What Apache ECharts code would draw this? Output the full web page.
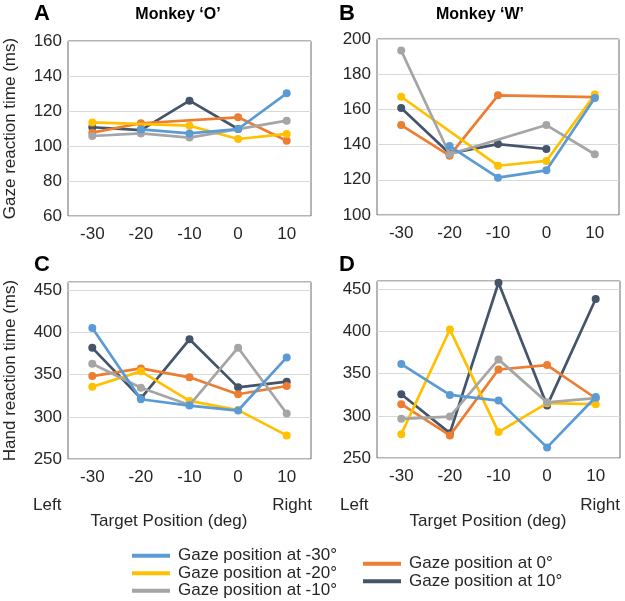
<!DOCTYPE html>
<html>
<head>
<meta charset="utf-8">
<script src="https://cdn.jsdelivr.net/npm/echarts@6/dist/echarts.min.js"></script>
<style>html,body{margin:0;padding:0;background:#fff}#c{width:625px;height:601px}</style>
</head>
<body>
<div id="c"></div>
<script>
const categories = ['-30', '-20', '-10', '0', '10'];
const seriesNames = ['Gaze position at -30°', 'Gaze position at -20°', 'Gaze position at -10°', 'Gaze position at 0°', 'Gaze position at 10°'];
const colors = ['#5B9BD5', '#FFC000', '#A5A5A5', '#ED7D31', '#44546A'];

// Panel A: gaze RT, monkey O
const gazeO_m30 = [null, 109.5, 107.2, 109.7, 130.1];
const gazeO_m20 = [113.5, null, 111.6, 104, 106.9];
const gazeO_m10 = [105.7, 107.2, 104.8, null, 114.5];
const gazeO_0 = [107.6, 113, null, 116.4, 103];
const gazeO_10 = [110.7, 109.1, 125.9, 109.7, null];
// Panel B: gaze RT, monkey W
const gazeW_m30 = [null, 139.2, 121.2, 125.4, 166.5];
const gazeW_m20 = [167.2, null, 128, 130.7, 168.4];
const gazeW_m10 = [193.4, 134.5, null, 151.1, 134.5];
const gazeW_0 = [151.1, 133.7, 168, null, 167];
const gazeW_10 = [160.8, 135, 140.3, 137.5, null];
// Panel C: hand RT, monkey O
const handO_m30 = [405.5, 320.9, 313.4, 307.5, 370.5];
const handO_m20 = [335.8, 354, 318.9, 308, 278];
const handO_m10 = [363, 334.6, 314, 382, 304];
const handO_0 = [348.4, 357.5, 346.9, 326.8, 336.6];
const handO_10 = [381.9, 322, 392, 335, 341.7];
// Panel D: hand RT, monkey W
const handW_m30 = [361.4, 324.8, 318.1, 262.6, 322.4];
const handW_m20 = [278.3, 402.4, 280.7, 315, 313.8];
const handW_m10 = [296.5, 299.2, 367, 316, 321];
const handW_0 = [313.8, 276.8, 355, 360.2, 320.9];
const handW_10 = [325.6, 279.5, 457.9, 312.2, 438.6];

const panels = [
  [gazeO_m30, gazeO_m20, gazeO_m10, gazeO_0, gazeO_10],
  [gazeW_m30, gazeW_m20, gazeW_m10, gazeW_0, gazeW_10],
  [handO_m30, handO_m20, handO_m10, handO_0, handO_10],
  [handW_m30, handW_m20, handW_m10, handW_0, handW_10]
];

const FONT = 'Liberation Sans, Arial, sans-serif';
const TXT = '#262626';

const grids = [
  {left: 68, top: 41, width: 243, height: 175},
  {left: 377, top: 39, width: 242, height: 176},
  {left: 68, top: 282, width: 243, height: 177},
  {left: 377, top: 281, width: 243, height: 177}
].map(g => Object.assign(g, {show: true, borderColor: '#6b6b6b', borderWidth: 1, backgroundColor: 'transparent'}));

const yRanges = [[60, 160, 20], [100, 200, 20], [250, 460, 50], [250, 460, 50]];
const yNames = ['Gaze reaction time (ms)', '', 'Hand reaction time (ms)', ''];

const xAxes = grids.map((g, i) => ({
  type: 'category', gridIndex: i, data: categories, boundaryGap: true,
  axisLine: {show: false}, axisTick: {show: false},
  axisLabel: {color: TXT, fontFamily: FONT, fontSize: 17, margin: 10}
}));
const yAxes = grids.map((g, i) => ({
  type: 'value', gridIndex: i, min: yRanges[i][0], max: yRanges[i][1], interval: yRanges[i][2],
  axisLine: {show: false}, axisTick: {show: false},
  splitLine: {lineStyle: {color: '#d9d9d9', width: 1}},
  axisLabel: {color: TXT, fontFamily: FONT, fontSize: 17, margin: 6,
    formatter: v => (v % yRanges[i][2] === 0 ? String(v) : '')},
  name: yNames[i], nameLocation: 'middle', nameGap: 49,
  nameTextStyle: {color: TXT, fontFamily: FONT, fontSize: 17}
}));

// draw order bottom -> top
const drawOrder = [4, 3, 1, 2, 0];
const series = [];
panels.forEach((p, pi) => {
  drawOrder.forEach((si, k) => {
    series.push({
      type: 'line', name: seriesNames[si], xAxisIndex: pi, yAxisIndex: pi,
      data: p[si], connectNulls: true, symbol: 'circle', symbolSize: 8,
      z: 2 + k,
      lineStyle: {color: colors[si], width: 2.7},
      itemStyle: {color: colors[si]},
      emphasis: {disabled: true}
    });
  });
});

const legendCommon = {
  orient: 'vertical', icon: 'rect', itemWidth: 38, itemHeight: 4, itemGap: 0,
  selectedMode: false, padding: 0, height: 70,
  textStyle: {color: TXT, fontFamily: FONT, fontSize: 17, lineHeight: 17.5, padding: [0, 0, 0, 3]}
};

const txt = (left, top, text, size, bold, extra) => Object.assign({
  type: 'text', left: left, top: top,
  style: {text: text, fill: bold ? '#000' : TXT, font: (bold ? 'bold ' : '') + size + 'px ' + FONT}
}, extra || {});

const option = {
  animation: false,
  backgroundColor: '#fff',
  grid: grids,
  xAxis: xAxes,
  yAxis: yAxes,
  series: series,
  legend: [
    Object.assign({}, legendCommon, {left: 132, top: 547, data: seriesNames.slice(0, 3)}),
    Object.assign({}, legendCommon, {left: 363, top: 555, data: seriesNames.slice(3)})
  ],
  graphic: [
    txt(34, 3, 'A', 22, true),
    txt(339, 3, 'B', 22, true),
    txt(34, 254, 'C', 22, true),
    txt(339, 254, 'D', 22, true),
    {type: 'text', x: 178, y: 15, style: {text: 'Monkey \u2018O\u2019', fill: '#000', font: 'bold 16px ' + FONT, align: 'center', verticalAlign: 'middle'}},
    {type: 'text', x: 480, y: 15, style: {text: 'Monkey \u2018W\u2019', fill: '#000', font: 'bold 16px ' + FONT, align: 'center', verticalAlign: 'middle'}},
    {type: 'text', x: 33, y: 505, style: {text: 'Left', fill: TXT, font: '17px ' + FONT, verticalAlign: 'middle'}},
    {type: 'text', x: 312, y: 505, style: {text: 'Right', fill: TXT, font: '17px ' + FONT, align: 'right', verticalAlign: 'middle'}},
    {type: 'text', x: 340, y: 505, style: {text: 'Left', fill: TXT, font: '17px ' + FONT, verticalAlign: 'middle'}},
    {type: 'text', x: 620, y: 505, style: {text: 'Right', fill: TXT, font: '17px ' + FONT, align: 'right', verticalAlign: 'middle'}},
    {type: 'text', x: 169, y: 521, style: {text: 'Target Position (deg)', fill: TXT, font: '17px ' + FONT, align: 'center', verticalAlign: 'middle'}},
    {type: 'text', x: 488, y: 521, style: {text: 'Target Position (deg)', fill: TXT, font: '17px ' + FONT, align: 'center', verticalAlign: 'middle'}}
  ]
};

const chart = echarts.init(document.getElementById('c'), null, {renderer: 'canvas'});
chart.setOption(option);
</script>
</body>
</html>
